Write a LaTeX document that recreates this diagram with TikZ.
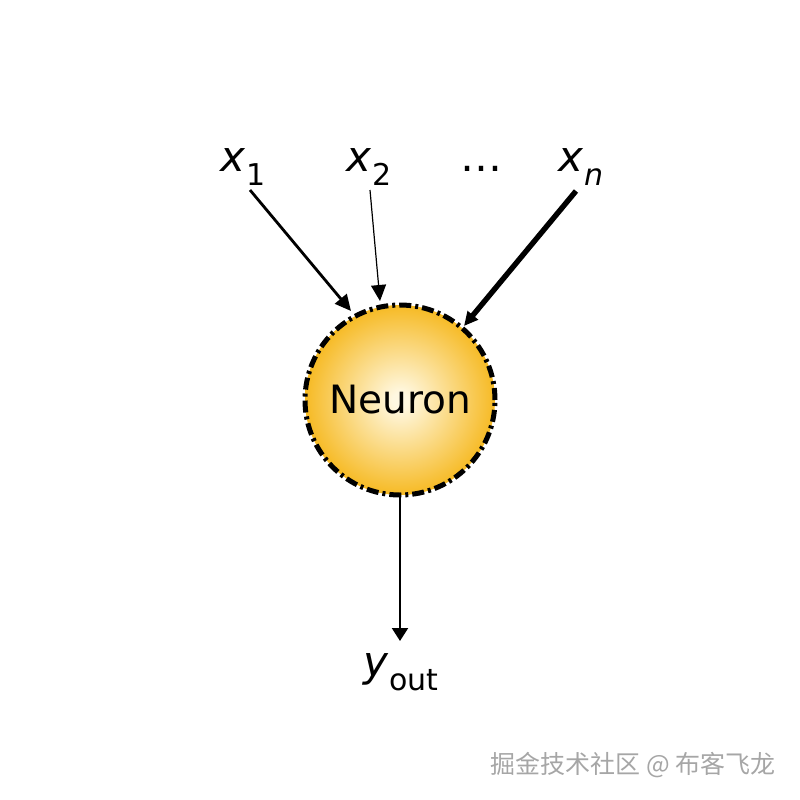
\documentclass[tikz,border=0pt]{standalone}
\usepackage{fontspec}
\setmainfont{DejaVu Sans}
\newfontfamily\cjk{Noto Sans CJK SC}
\usetikzlibrary{arrows.meta}
\definecolor{gold}{RGB}{246,186,36}
\definecolor{pale}{RGB}{255,248,225}
\pgfdeclareradialshading{glow}{\pgfpoint{0bp}{0bp}}{color(0bp)=(pale); color(2bp)=(pale); color(25bp)=(gold); color(50bp)=(gold)}
\tikzset{
  lbl/.style={font=\fontsize{21}{21}\selectfont, inner sep=1pt},
  arr/.style={-{Triangle[length=8pt,width=7.5pt]}, black},
  neuron/.style={circle, minimum size=95pt, draw=black, line width=2.5pt,
    dash pattern=on 6pt off 2pt on 1.5pt off 2pt, shading=glow,
    font=\fontsize{19.5}{19.5}\selectfont, inner sep=0pt}
}
\newcommand{\sbs}[1]{\raisebox{-0.32em}{\fontsize{15}{15}\selectfont #1}}
\begin{document}
\begin{tikzpicture}[x=0.5pt,y=-0.5pt]
\useasboundingbox (0,0) rectangle (800,800);
\node[neuron] (n) at (400,400) {Neuron};
\node[lbl] (x1) at (243,167) {\textit{x}\sbs{1}};
\node[lbl] (x2) at (369,167) {\textit{x}\sbs{2}};
\node[lbl] (dots) at (481,167) {\raisebox{-0.2em}{…}};
\node[lbl] (xn) at (581,167) {\textit{x}\sbs{\textit{n}}};
\node[lbl] (y) at (401,672) {\textit{y}\sbs{out}};
\coordinate (t1) at (351,311);
\coordinate (t2) at (380,301);
\coordinate (tn) at (464,326);
\coordinate (s1) at (250,190);
\coordinate (s2) at (370,190);
\coordinate (sn) at (576,191);
\coordinate (o1) at (400,497);
\coordinate (o2) at (400,641);
\draw[arr, line width=1.4pt] (s1) -- (t1);
\draw[arr, line width=0.6pt] (s2) -- (t2);
\draw[arr, line width=2.7pt, -{Triangle[length=7pt,width=6.5pt]}] (sn) -- (tn);
\draw[arr, line width=1.1pt, -{Triangle[length=6.5pt,width=8pt]}] (o1) -- (o2);
\node[font=\cjk\fontsize{12.5}{12.5}\selectfont, text=gray!70] (wm) at (633,765) {掘金技术社区 @ 布客飞龙};
\end{tikzpicture}
\end{document}
